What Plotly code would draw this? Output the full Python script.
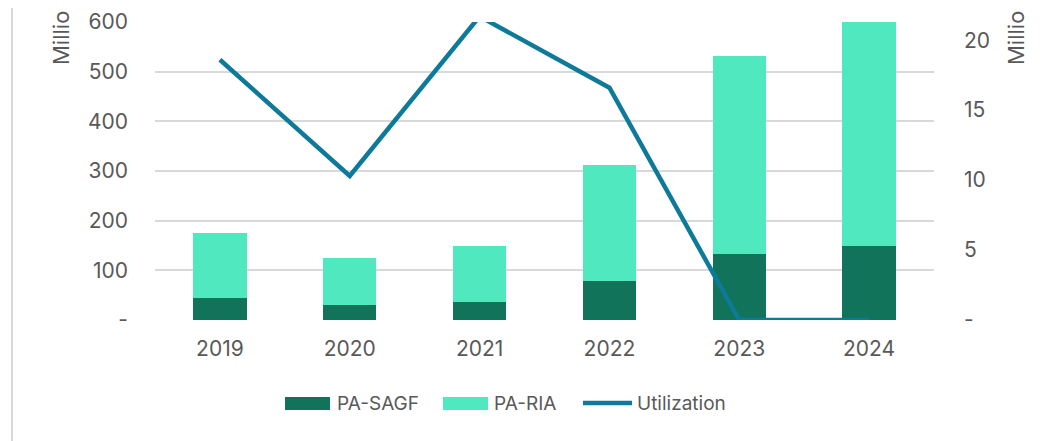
import plotly.graph_objects as go

years = ["2019", "2020", "2021", "2022", "2023", "2024"]
pa_sagf = [44, 30, 37, 78, 133, 150]
pa_ria_total = [175, 124, 150, 312, 531, 603]
pa_ria = [t - s for t, s in zip(pa_ria_total, pa_sagf)]
utilization = [18.6, 10.3, 21.7, 16.6, 0, 0]

left_ticks = [0, 100, 200, 300, 400, 500, 600]
left_text = ["-", "100", "200", "300", "400", "500", "600"]
right_ticks = [0, 5, 10, 15, 20]
right_text = ["-", "5", "10", "15", "20"]

font_family = "Inter, Roboto, Open Sans, sans-serif"
txt = "#595959"
c_sagf = "#11735A"
c_ria = "#50E9BF"
c_util = "#0E7A99"

fig = go.Figure()
fig.add_trace(go.Bar(x=years, y=pa_sagf, name="PA-SAGF", cliponaxis=False,
                     marker=dict(color=c_sagf, line=dict(width=0))))
fig.add_trace(go.Bar(x=years, y=pa_ria, name="PA-RIA", cliponaxis=False,
                     marker=dict(color=c_ria, line=dict(width=0))))
fig.add_trace(go.Scatter(x=years, y=utilization, name="Utilization", mode="lines",
                         line=dict(color=c_util, width=4.5), yaxis="y2", cliponaxis=False))

fig.update_layout(
    width=1064, height=441,
    barmode="stack", bargap=0.59,
    plot_bgcolor="white", paper_bgcolor="white",
    margin=dict(l=147, r=138, t=14, b=129, autoexpand=False),
    font=dict(family=font_family, size=21, color=txt),
    xaxis=dict(showgrid=False, showline=False, ticks="", ticklabelstandoff=14, automargin=False,
               tickfont=dict(size=21, color=txt)),
    yaxis=dict(range=[0, 600], tickvals=left_ticks, ticktext=left_text, automargin=False,
               showgrid=True, gridcolor="#D9D9D9", gridwidth=1.5, zeroline=False,
               showline=False, ticks="", ticklabelstandoff=26, tickfont=dict(size=21, color=txt)),
    yaxis2=dict(range=[0, 21.3], tickvals=right_ticks, ticktext=right_text, overlaying="y", side="right",
                showgrid=False, zeroline=False, showline=False, ticks="", ticklabelstandoff=29,
                automargin=False, tickfont=dict(size=21, color=txt)),
    showlegend=False,
)

# plot area in page pixels (reference): x 155..934, y 22..320
def px(x):
    return (x - 155) / 779.0

def py(y):
    return (320 - y) / 298.0

# manual legend with wide swatches like the reference
leg_y = py(403)
legend_items = [
    ("PA-SAGF", c_sagf, "bar", 285, 330, 335),
    ("PA-RIA", c_ria, "bar", 443, 488, 492),
    ("Utilization", c_util, "line", 583, 632, 635),
]
for name, color, kind, x0, x1, tx in legend_items:
    if kind == "bar":
        fig.add_shape(type="rect", xref="paper", yref="paper", x0=px(x0), x1=px(x1),
                      y0=py(410), y1=py(397), line=dict(width=0), fillcolor=color)
    else:
        fig.add_shape(type="line", xref="paper", yref="paper", x0=px(x0), x1=px(x1),
                      y0=leg_y, y1=leg_y, line=dict(color=color, width=4.5))
    fig.add_annotation(text=name, xref="paper", yref="paper", x=px(tx), y=leg_y, xanchor="left",
                       yanchor="middle", showarrow=False, font=dict(size=19, color=txt))

fig.add_annotation(text="Millio", xref="paper", yref="paper", x=px(61), y=py(9), xanchor="center", yanchor="top",
                   textangle=-90, showarrow=False, font=dict(size=22, color=txt))
fig.add_annotation(text="Millio", xref="paper", yref="paper", x=px(1016), y=py(9), xanchor="center", yanchor="top",
                   textangle=-90, showarrow=False, font=dict(size=22, color=txt))
fig.add_shape(type="line", xref="paper", yref="paper", x0=px(12), x1=px(12), y0=py(0), y1=py(441),
              line=dict(color="#D9D9D9", width=2))

fig.write_html("out.html")
